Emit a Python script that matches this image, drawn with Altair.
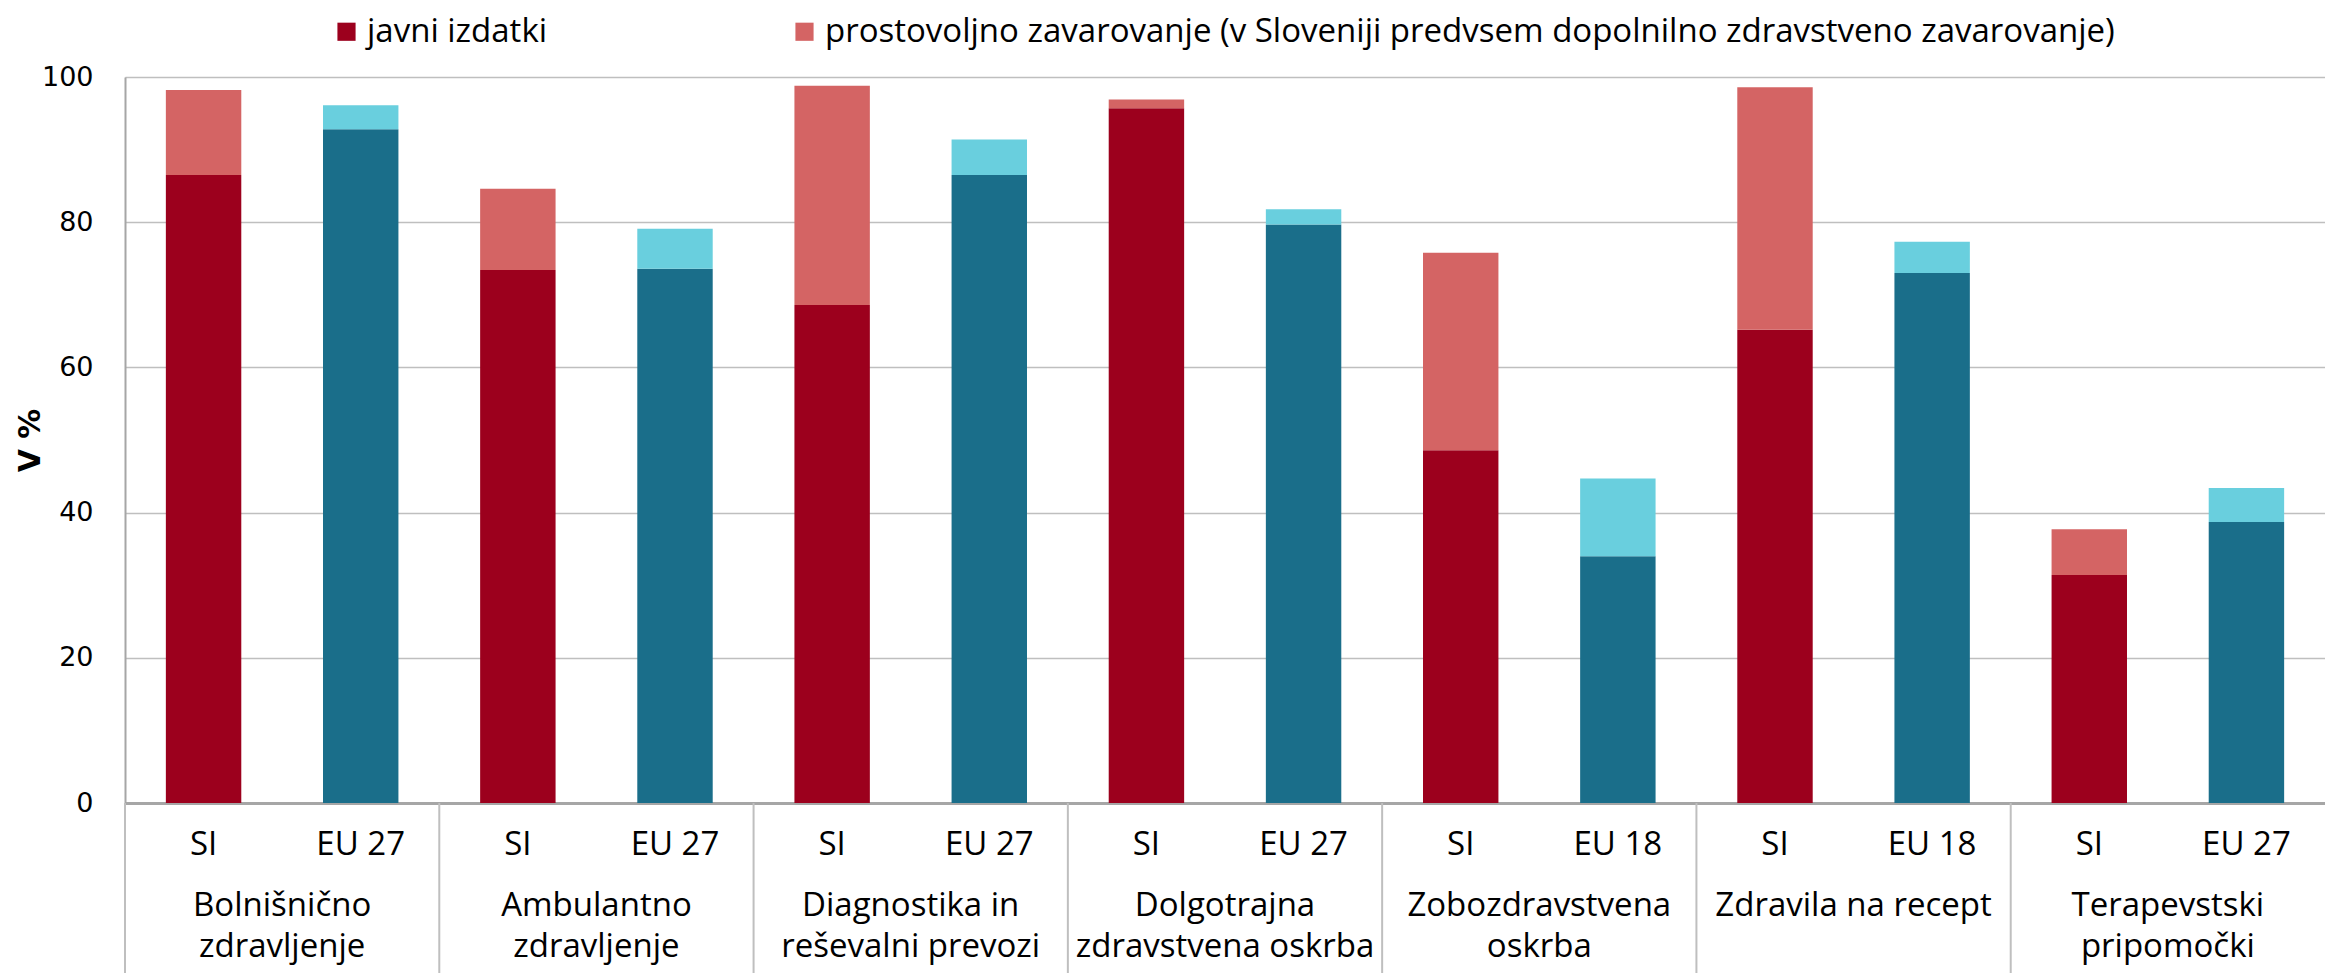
import altair as alt
import pandas as pd

groups = ["Bolnišnično\nzdravljenje", "Ambulantno\nzdravljenje", "Diagnostika in\nreševalni prevozi",
          "Dolgotrajna\nzdravstvena oskrba", "Zobozdravstvena\noskrba", "Zdravila na recept",
          "Terapevstski\npripomočki"]
eu_labels = ["EU 27", "EU 27", "EU 27", "EU 27", "EU 18", "EU 18", "EU 27"]
si_public = [86.5, 73.4, 68.6, 95.7, 48.6, 65.2, 31.4]
si_voluntary = [11.7, 11.2, 30.2, 1.2, 27.2, 33.4, 6.3]
eu_public = [92.8, 73.6, 86.5, 79.7, 34.0, 73.0, 38.7]
eu_voluntary = [3.3, 5.5, 4.9, 2.1, 10.7, 4.3, 4.7]

LEG_PUB = "javni izdatki"
LEG_VOL = "prostovoljno zavarovanje (v Sloveniji predvsem dopolnilno zdravstveno zavarovanje)"
series = [LEG_PUB, LEG_VOL, "EU javni", "EU prostovoljno"]
colors = ["#9C001D", "#D46464", "#1A6E8A", "#69CFDE"]

rows = []
for i, g in enumerate(groups):
    rows.append(dict(group=g, sub="SI", label="SI", series=LEG_PUB, ord=0, value=si_public[i]))
    rows.append(dict(group=g, sub="SI", label="SI", series=LEG_VOL, ord=1, value=si_voluntary[i]))
    rows.append(dict(group=g, sub="EU", label=eu_labels[i], series="EU javni", ord=0, value=eu_public[i]))
    rows.append(dict(group=g, sub="EU", label=eu_labels[i], series="EU prostovoljno", ord=1, value=eu_voluntary[i]))
df = pd.DataFrame(rows)

sub_df = df.drop_duplicates(["group", "sub"])[["group", "sub", "label"]]
grp_df = pd.DataFrame({"group": groups})

W, H = 2200, 726
FONT = "Open Sans, sans-serif"

xaxis = alt.Axis(labels=False, ticks=False, title=None, domain=True,
                 domainColor="#A6A6A6", domainWidth=3, grid=False)
xenc = alt.X("group:N", sort=groups, axis=xaxis,
             scale=alt.Scale(paddingInner=0, paddingOuter=0))
xoff = alt.XOffset("sub:N", sort=["SI", "EU"],
                   scale=alt.Scale(paddingInner=0.52, paddingOuter=0.26))

bars = alt.Chart(df).mark_bar().encode(
    x=xenc,
    xOffset=xoff,
    y=alt.Y("value:Q", stack="zero",
            scale=alt.Scale(domain=[0, 100]),
            axis=alt.Axis(values=[0, 20, 40, 60, 80, 100], title="V %", grid=True,
                          gridColor="#BFBFBF", gridWidth=1.5, ticks=False,
                          domainColor="#A6A6A6", domainWidth=2,
                          labelFont="DejaVu Sans", labelFontSize=27, labelColor="#000",
                          labelPadding=32,
                          titleFont="DejaVu Sans", titleFontSize=30, titleFontWeight="bold",
                          titleColor="#000", titleX=-95, titleY=H / 2, titleAngle=270,
                          titleAlign="center", titleBaseline="middle")),
    color=alt.Color("series:N", scale=alt.Scale(domain=series, range=colors),
                    legend=alt.Legend(values=[LEG_PUB, LEG_VOL], title=None, orient="none",
                                      direction="horizontal", legendX=205, legendY=-62,
                                      symbolType="square", symbolSize=330, symbolStrokeWidth=0,
                                      labelFont=FONT, labelFontSize=33, labelColor="#000",
                                      columnPadding=240, labelOffset=4, labelLimit=2000)),
    order=alt.Order("ord:Q"),
)

seps = alt.Chart(grp_df).mark_rule(color="#BFBFBF", strokeWidth=2).encode(
    x=alt.X("group:N", sort=groups, axis=xaxis, bandPosition=0,
            scale=alt.Scale(paddingInner=0, paddingOuter=0)),
    y=alt.value(H),
    y2=alt.value(H + 175),
)

sublabels = alt.Chart(sub_df).mark_text(font=FONT, fontSize=33, color="#000",
                                         baseline="middle", align="center").encode(
    x=xenc,
    xOffset=xoff,
    y=alt.value(H + 42),
    text="label:N",
)

grplabels = alt.Chart(grp_df).mark_text(font=FONT, fontSize=33, color="#000",
                                         baseline="top", align="center",
                                         lineBreak="\n", lineHeight=41).encode(
    x=xenc,
    y=alt.value(H + 87),
    text="group:N",
)

chart = alt.layer(bars, seps, sublabels, grplabels).properties(
    width=W, height=H,
    autosize=alt.AutoSizeParams(type="none"),
    padding={"left": 117, "top": 69, "right": 0, "bottom": 170},
).configure_view(stroke=None).configure(background="#ffffff")

chart.save("out.html", embed_options={"renderer": "svg", "actions": False})
